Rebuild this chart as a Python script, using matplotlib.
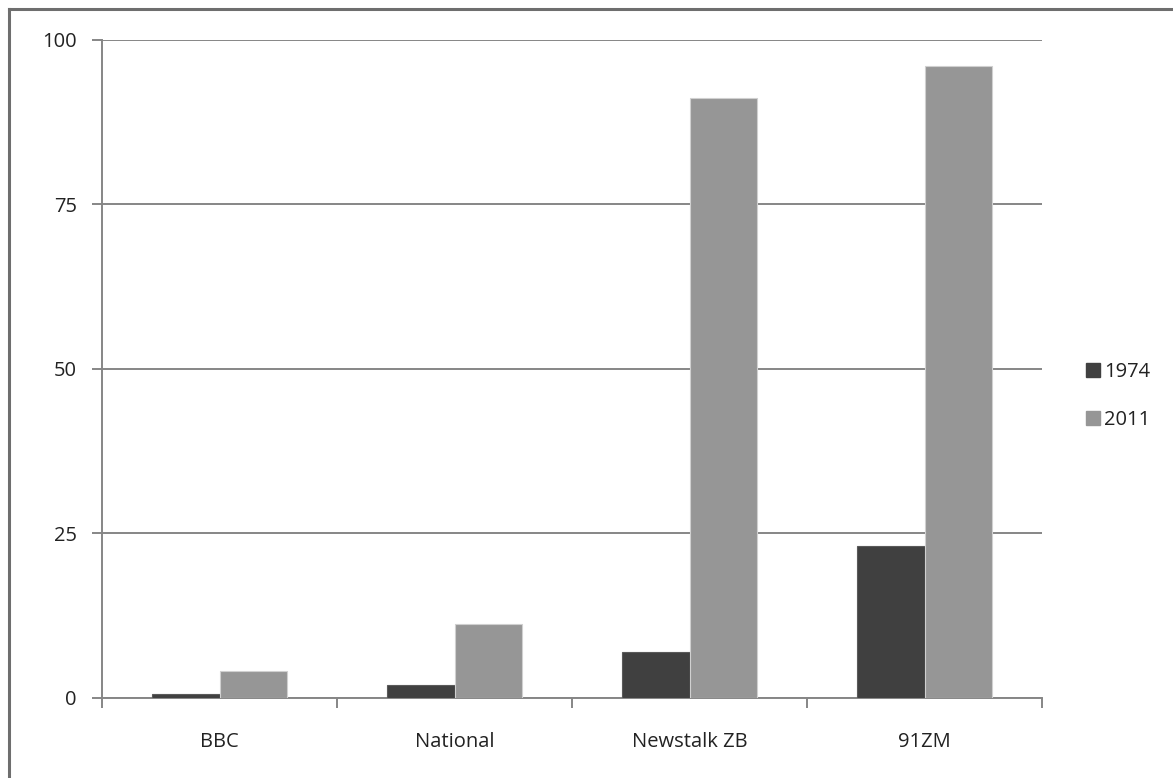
import matplotlib
matplotlib.use("Agg")
import matplotlib.pyplot as plt
import numpy as np
from matplotlib.lines import Line2D

categories = ["BBC", "National", "Newstalk ZB", "91ZM"]
series_names = ["1974", "2011"]
values_1974 = [0.6, 2.0, 7.0, 23.0]
values_2011 = [4.1, 11.2, 91.2, 96.0]
y_ticks = [0, 25, 50, 75, 100]

plt.rcParams['font.family'] = ['Open Sans', 'DejaVu Sans']

fig = plt.figure(figsize=(11.73, 7.78), dpi=100)
ax = fig.add_axes([102/1173, 1-697.7/778, 940/1173, (697.7-39.7)/778])

x = np.arange(len(categories))
w = 1/3.5
c1, c2 = "#404040", "#969696"
ax.bar(x - w/2, values_1974, w, color=c1, edgecolor="#5a5a5a", linewidth=0.8, zorder=3, label=series_names[0])
ax.bar(x + w/2, values_2011, w, color=c2, edgecolor="#d0d0d0", linewidth=0.8, zorder=3, label=series_names[1])

fs = 14.5
ax.set_xlim(-0.5, len(categories) - 0.5)
ax.set_ylim(0, 100)
ax.set_yticks(y_ticks)
ax.set_yticklabels([str(t) for t in y_ticks], fontsize=fs, color="#222222")
ax.yaxis.grid(True, color="#868686", linewidth=1.4, zorder=0)
ax.set_axisbelow(True)

ax.set_xticks(x)
ax.set_xticklabels(categories, fontsize=fs, color="#222222")
ax.set_xticks(np.arange(len(categories) + 1) - 0.5, minor=True)
ax.tick_params(axis='x', which='major', length=0, pad=25)
ax.tick_params(axis='x', which='minor', length=7, width=1.4, color="#868686", direction='out')
ax.tick_params(axis='y', length=7, width=1.4, color="#868686", direction='out', pad=11)

for s in ["top", "right"]:
    ax.spines[s].set_visible(False)
for s in ["left", "bottom"]:
    ax.spines[s].set_color("#868686")
    ax.spines[s].set_linewidth(1.4)

handles = [Line2D([0], [0], marker='s', linestyle='none', markersize=10, markerfacecolor=c, markeredgecolor=c) for c in (c1, c2)]
fig.legend(handles, series_names, loc='center left', bbox_to_anchor=(1065/1173, 1-396/778),
           frameon=False, fontsize=fs, handletextpad=0.05, labelspacing=1.35, handlelength=1.0,
           labelcolor="#222222")

# outer chart border (only top/left visible in reference)
fig.add_artist(Line2D([9/1173, 9/1173], [0, 1-9/778], transform=fig.transFigure, color="#6e6e6e", linewidth=2.2))
fig.add_artist(Line2D([9/1173, 1], [1-9/778, 1-9/778], transform=fig.transFigure, color="#6e6e6e", linewidth=2.2))

fig.savefig("out.png", dpi=100, facecolor="white")
